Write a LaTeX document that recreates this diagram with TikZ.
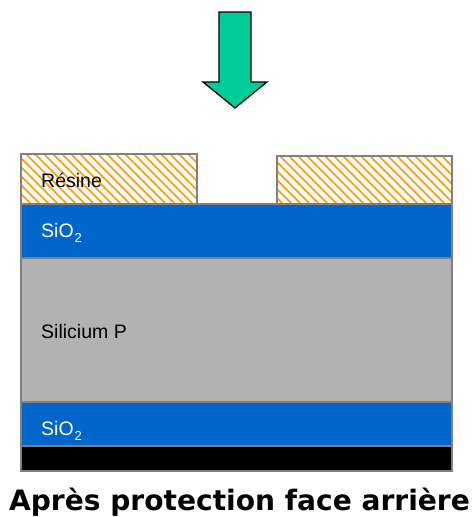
\documentclass[tikz,border=0pt]{standalone}
\usepackage{fontspec}
\setmainfont{Liberation Sans}
\newfontfamily\titlefont{DejaVu Sans}
\definecolor{layerblue}{HTML}{0066CC}
\definecolor{layergray}{HTML}{B2B2B2}
\definecolor{edgegray}{HTML}{808080}
\definecolor{hatchorange}{HTML}{FF9900}
\definecolor{arrowgreen}{HTML}{00CC99}
\tikzset{
  layer/.style={draw=edgegray,line width=1.4pt},
  lab/.style={anchor=base west,inner sep=0pt,font=\fontsize{19.5pt}{22pt}\selectfont},
  hatchline/.style={draw=hatchorange,line width=1.6pt},
}
\newcommand{\hatchbox}[4]{%
  \begin{scope}
    \clip (#1,#2) rectangle (#3,#4);
    \foreach \k in {-60,-51,...,480}{\draw[hatchline] (\k,140) -- ++(80,80);}
  \end{scope}
  \draw[layer] (#1,#2) rectangle (#3,#4);
}
\newcommand{\oxide}{SiO\raisebox{-5pt}{\fontsize{13pt}{14pt}\selectfont\hspace{1pt}2}}
\begin{document}
\begin{tikzpicture}[x=1pt,y=-1pt]
\useasboundingbox (0,0) rectangle (472,517);
\draw[black,line width=1.3pt,fill=arrowgreen,line join=miter]
  (219,12) -- (251,12) -- (251,82) -- (267,82) -- (235,108) -- (203,82) -- (219,82) -- cycle;
\hatchbox{21}{154}{197}{204}
\hatchbox{277}{156}{452}{204}
\draw[layer,fill=layerblue] (21,204) rectangle (452,258);
\draw[layer,fill=layergray] (21,258) rectangle (452,402);
\draw[layer,fill=layerblue] (21,402) rectangle (452,446);
\draw[layer,fill=black] (21,446) rectangle (452,471);
\node[lab,text=black] (res) at (41,187) {Résine};
\node[lab,text=white] (ox1) at (41,237) {\oxide};
\node[lab,text=black] (si) at (41,338) {Silicium P};
\node[lab,text=white] (ox2) at (41,435) {\oxide};
\node[anchor=base,inner sep=0pt,font=\titlefont\bfseries\fontsize{28.1pt}{30pt}\selectfont] (title) at (239.5,510) {Après protection face arrière};
\end{tikzpicture}
\end{document}
